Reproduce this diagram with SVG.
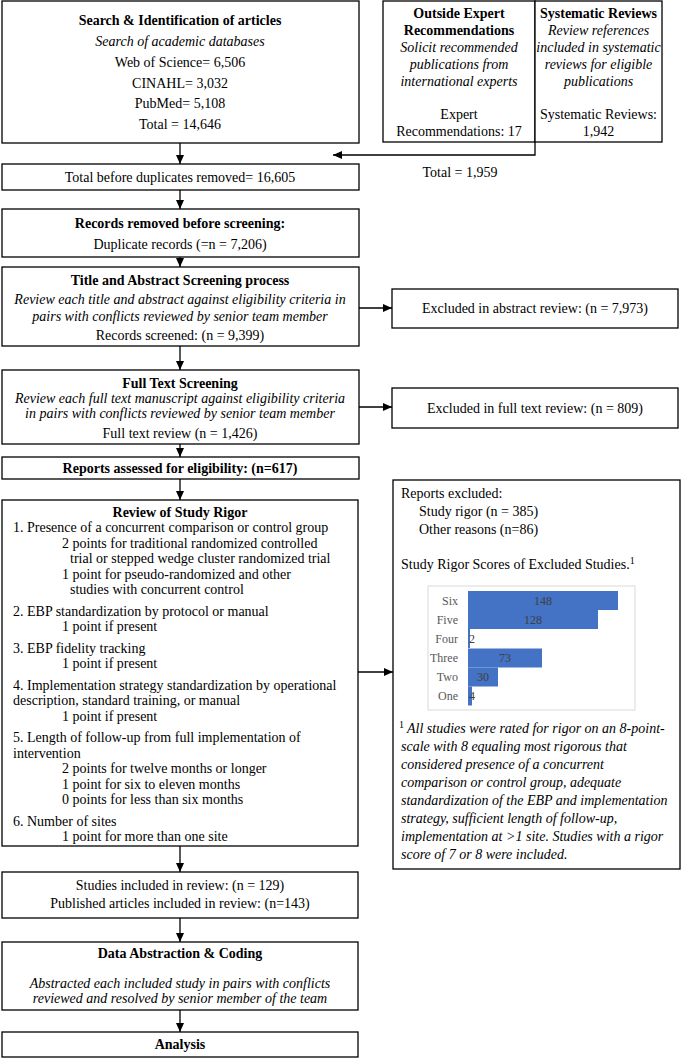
<svg xmlns="http://www.w3.org/2000/svg" width="685" height="1058" viewBox="0 0 685 1058">
<style>
.b{fill:#fff;stroke:#000;stroke-width:1.3}
text{font-family:"Liberation Serif","Times New Roman",serif;font-size:14px;fill:#000}
.c{text-anchor:middle}
.bd{font-weight:bold}
.i{font-style:italic}
.cl{font-size:12px;fill:#595959;text-anchor:end}
.vl{font-size:12px;fill:#404040}
.bar{fill:#4472C4}
.ln{fill:none;stroke:#000;stroke-width:1.3}
</style>
<defs>
<marker id="ah" markerWidth="10" markerHeight="10" refX="9" refY="5" orient="auto" markerUnits="userSpaceOnUse"><path d="M0,1 L9,5 L0,9 z" fill="#000"/></marker>
</defs>
<rect width="685" height="1058" fill="#fff"/>

<g id="search">
<rect class="b" x="2" y="1" width="357" height="142"/>
<text class="c bd" x="180" y="25">Search &amp; Identification of articles</text>
<text class="c i" x="180" y="46">Search of academic databases</text>
<text class="c" x="180" y="67">Web of Science= 6,506</text>
<text class="c" x="180" y="88">CINAHL= 3,032</text>
<text class="c" x="180" y="108">PubMed= 5,108</text>
<text class="c" x="180" y="129">Total = 14,646</text>
</g>

<g id="expert">
<rect class="b" x="383" y="1" width="152" height="141"/>
<text class="c bd" x="459" y="18">Outside Expert</text>
<text class="c bd" x="459" y="35">Recommendations</text>
<text class="c i" x="459" y="52">Solicit recommended</text>
<text class="c i" x="459" y="69">publications from</text>
<text class="c i" x="459" y="86">international experts</text>
<text class="c" x="459" y="119">Expert</text>
<text class="c" x="459" y="136">Recommendations: 17</text>
</g>

<g id="sysrev">
<rect class="b" x="535" y="1" width="127" height="141"/>
<text class="c bd" x="598.5" y="18">Systematic Reviews</text>
<text class="c i" x="598.5" y="35">Review references</text>
<text class="c i" x="598.5" y="52">included in systematic</text>
<text class="c i" x="598.5" y="69">reviews for eligible</text>
<text class="c i" x="598.5" y="86">publications</text>
<text class="c" x="598.5" y="119">Systematic Reviews:</text>
<text class="c" x="598.5" y="136">1,942</text>
</g>

<g id="total1959">
<text class="c" x="460" y="177">Total = 1,959</text>
</g>

<g id="totalbefore">
<rect class="b" x="2" y="164" width="357" height="26"/>
<text class="c" x="180" y="182">Total before duplicates removed= 16,605</text>
</g>

<g id="removed">
<rect class="b" x="2" y="209" width="357" height="48"/>
<text class="c bd" x="180" y="228">Records removed before screening:</text>
<text class="c" x="180" y="249">Duplicate records (=n = 7,206)</text>
</g>

<g id="titleabs">
<rect class="b" x="2" y="267" width="357" height="79"/>
<text class="c bd" x="180" y="285">Title and Abstract Screening process</text>
<text class="c i" x="180" y="304">Review each title and abstract against eligibility criteria in</text>
<text class="c i" x="180" y="321">pairs with conflicts reviewed by senior team member</text>
<text class="c" x="180" y="340">Records screened: (n = 9,399)</text>
</g>

<g id="exclabs">
<rect class="b" x="392" y="289" width="286" height="39"/>
<text class="c" x="535" y="313">Excluded in abstract review: (n = 7,973)</text>
</g>

<g id="fulltext">
<rect class="b" x="2" y="370" width="357" height="74"/>
<text class="c bd" x="180" y="388">Full Text Screening</text>
<text class="c i" x="180" y="403">Review each full text manuscript against eligibility criteria</text>
<text class="c i" x="180" y="418">in pairs with conflicts reviewed by senior team member</text>
<text class="c" x="180" y="438">Full text review (n = 1,426)</text>
</g>

<g id="exclft">
<rect class="b" x="392" y="388" width="286" height="40"/>
<text class="c" x="535" y="413">Excluded in full text review: (n = 809)</text>
</g>

<g id="assessed">
<rect class="b" x="2" y="457" width="357" height="22"/>
<text class="c bd" x="180" y="473">Reports assessed for eligibility: (n=617)</text>
</g>

<g id="rigor">
<rect class="b" x="2" y="500" width="356" height="346"/>
<text class="c bd" x="180" y="517">Review of Study Rigor</text>
<text x="13" y="532">1. Presence of a concurrent comparison or control group</text>
<text x="62" y="548">2 points for traditional randomized controlled</text>
<text x="70" y="563">trial or stepped wedge cluster randomized trial</text>
<text x="62" y="579">1 point for pseudo-randomized and other</text>
<text x="70" y="594">studies with concurrent control</text>
<text x="13" y="616">2. EBP standardization by protocol or manual</text>
<text x="62" y="631">1 point if present</text>
<text x="13" y="653">3. EBP fidelity tracking</text>
<text x="62" y="668">1 point if present</text>
<text x="13" y="690">4. Implementation strategy standardization by operational</text>
<text x="13" y="705">description, standard training, or manual</text>
<text x="62" y="721">1 point if present</text>
<text x="13" y="742">5. Length of follow-up from full implementation of</text>
<text x="13" y="758">intervention</text>
<text x="62" y="773">2 points for twelve months or longer</text>
<text x="62" y="789">1 point for six to eleven months</text>
<text x="62" y="804">0 points for less than six months</text>
<text x="13" y="826">6. Number of sites</text>
<text x="62" y="841">1 point for more than one site</text>
</g>

<g id="excluded">
<rect class="b" x="393" y="480" width="287" height="389"/>
<text x="401" y="498">Reports excluded:</text>
<text x="419" y="516">Study rigor (n = 385)</text>
<text x="419" y="534">Other reasons (n=86)</text>
<text x="401" y="569">Study Rigor Scores of Excluded Studies.<tspan font-size="10" dy="-5">1</tspan></text>
<rect x="428" y="586" width="207" height="124" fill="none" stroke="#D9D9D9" stroke-width="1"/>
<rect class="bar" x="468" y="591" width="150" height="19"/>
<rect class="bar" x="468" y="610" width="130" height="19"/>
<rect class="bar" x="468" y="629" width="2" height="19"/>
<rect class="bar" x="468" y="648.5" width="74" height="19"/>
<rect class="bar" x="468" y="667.5" width="30" height="19"/>
<rect class="bar" x="468" y="686.5" width="4" height="19"/>
<text class="cl" x="458" y="605">Six</text>
<text class="cl" x="458" y="624">Five</text>
<text class="cl" x="458" y="643">Four</text>
<text class="cl" x="458" y="662">Three</text>
<text class="cl" x="458" y="681">Two</text>
<text class="cl" x="458" y="700">One</text>
<text class="vl" x="543" y="605" text-anchor="middle">148</text>
<text class="vl" x="533" y="624" text-anchor="middle">128</text>
<text class="vl" x="469" y="643">2</text>
<text class="vl" x="505" y="662" text-anchor="middle">73</text>
<text class="vl" x="483" y="681" text-anchor="middle">30</text>
<text class="vl" x="469" y="700">4</text>
<text x="399" y="733"><tspan font-size="10" dy="-5">1</tspan><tspan class="i" dx="3" dy="5">All studies were rated for rigor on an 8-point-</tspan></text>
<text class="i" x="401" y="751">scale with 8 equaling most rigorous that</text>
<text class="i" x="401" y="769">considered presence of a concurrent</text>
<text class="i" x="401" y="787">comparison or control group, adequate</text>
<text class="i" x="401" y="805">standardization of the EBP and implementation</text>
<text class="i" x="401" y="823">strategy, sufficient length of follow-up,</text>
<text class="i" x="401" y="841">implementation at &gt;1 site. Studies with a rigor</text>
<text class="i" x="401" y="859">score of 7 or 8 were included.</text>
</g>

<g id="included">
<rect class="b" x="2" y="872" width="356" height="46"/>
<text class="c" x="180" y="890">Studies included in review: (n = 129)</text>
<text class="c" x="180" y="908">Published articles included in review: (n=143)</text>
</g>

<g id="abstraction">
<rect class="b" x="2" y="942" width="356" height="68"/>
<text class="c bd" x="180" y="958">Data Abstraction &amp; Coding</text>
<text class="c i" x="180" y="988">Abstracted each included study in pairs with conflicts</text>
<text class="c i" x="180" y="1003">reviewed and resolved by senior member of the team</text>
</g>

<g id="analysis">
<rect class="b" x="2" y="1032" width="356" height="25"/>
<text class="c bd" x="180" y="1049">Analysis</text>
</g>

<g id="connectors">
<path class="ln" d="M180,143 V164" marker-end="url(#ah)"/>
<path class="ln" d="M535,142 V155 H333" marker-end="url(#ah)"/>
<path class="ln" d="M180,190 V209" marker-end="url(#ah)"/>
<path class="ln" d="M180,257 V267" marker-end="url(#ah)"/>
<path class="ln" d="M359,308 H392" marker-end="url(#ah)"/>
<path class="ln" d="M180,346 V370" marker-end="url(#ah)"/>
<path class="ln" d="M359,407 H392" marker-end="url(#ah)"/>
<path class="ln" d="M180,444 V457" marker-end="url(#ah)"/>
<path class="ln" d="M180,479 V500" marker-end="url(#ah)"/>
<path class="ln" d="M358,672 H393" marker-end="url(#ah)"/>
<path class="ln" d="M180,846 V872" marker-end="url(#ah)"/>
<path class="ln" d="M180,918 V942" marker-end="url(#ah)"/>
<path class="ln" d="M180,1010 V1032" marker-end="url(#ah)"/>
</g>
</svg>
